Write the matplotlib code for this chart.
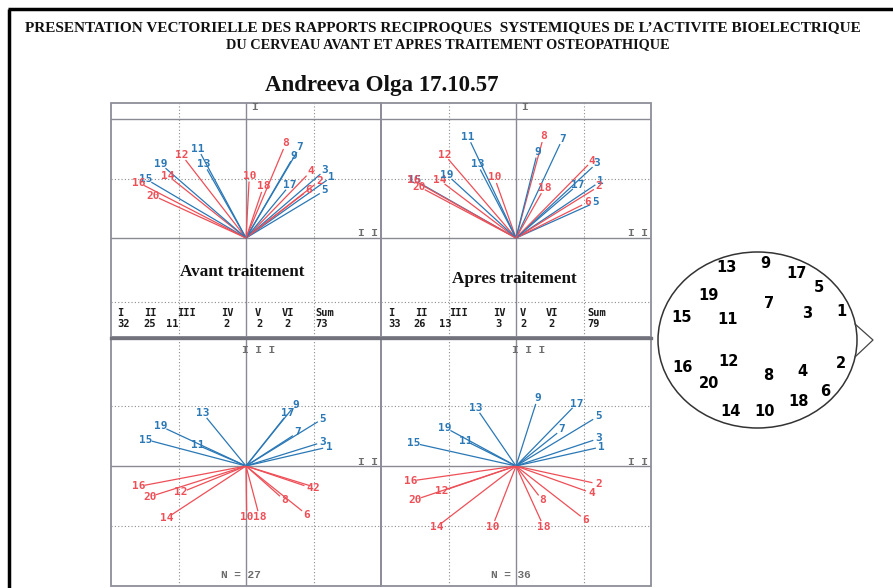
import matplotlib
matplotlib.use("Agg")
import matplotlib.pyplot as plt
from matplotlib.patches import Ellipse, Rectangle
from matplotlib import font_manager as fm
import numpy as np

# ---------------- data ----------------
electrodes = list(range(1, 21))

# vector tips (electrode 1..20), in panel grid units
avant_top_x = [1.27, 1.09, 1.17, 0.96, 1.17, 0.93, 0.80, 0.59, 0.71, 0.05,
               -0.71, -0.95, -0.62, -1.16, -1.48, -1.59, 0.65, 0.26, -1.26, -1.37]
avant_top_y = [1.03, 0.96, 1.14, 1.12, 0.80, 0.81, 1.53, 1.59, 1.38, 1.05,
               1.50, 1.39, 1.24, 1.05, 0.99, 0.93, 0.89, 0.87, 1.24, 0.71]

apres_top_x = [1.25, 1.23, 1.20, 1.13, 1.18, 1.06, 0.69, 0.41, 0.32, -0.32,
               -0.71, -1.06, -0.57, -1.13, -1.50, -1.52, 0.91, 0.42, -1.02, -1.43]
apres_top_y = [0.95, 0.87, 1.26, 1.30, 0.60, 0.60, 1.67, 1.71, 1.45, 1.02,
               1.70, 1.40, 1.24, 0.97, 0.97, 0.97, 0.89, 0.84, 1.06, 0.86]

avant_bot_x = [1.23, 1.04, 1.14, 0.95, 1.14, 0.90, 0.77, 0.57, 0.73, 0.01,
               -0.72, -0.96, -0.64, -1.18, -1.48, -1.59, 0.62, 0.20, -1.26, -1.42]
avant_bot_y = [0.32, -0.36, 0.40, -0.36, 0.79, -0.81, 0.56, -0.57, 1.02, -0.85,
               0.35, -0.44, 0.88, -0.87, 0.44, -0.34, 0.88, -0.85, 0.66, -0.51]

apres_bot_x = [1.27, 1.22, 1.23, 1.12, 1.22, 1.03, 0.68, 0.39, 0.32, -0.35,
               -0.75, -1.10, -0.59, -1.17, -1.51, -1.56, 0.90, 0.41, -1.05, -1.49]
apres_bot_y = [0.32, -0.30, 0.46, -0.45, 0.83, -0.90, 0.61, -0.57, 1.13, -1.01,
               0.42, -0.42, 0.97, -1.01, 0.38, -0.25, 1.04, -1.01, 0.64, -0.56]

stat_names = ["I", "II", "III", "IV", "V", "VI", "Sum"]
avant_stats = [32, 25, 11, 2, 2, 2, 73]
apres_stats = [33, 26, 13, 3, 2, 2, 79]
avant_N = 27
apres_N = 36

# electrode map (head scheme), pixel positions
head_x = [841, 841, 807, 802, 819, 825, 769, 768, 765, 765,
          728, 729, 727, 730, 682, 683, 796, 799, 708, 709]
head_y = [312, 363, 314, 372, 288, 392, 304, 376, 263, 411,
          319, 362, 268, 412, 317, 368, 273, 402, 296, 383]

title1 = "PRESENTATION VECTORIELLE DES RAPPORTS RECIPROQUES  SYSTEMIQUES DE L\u2019ACTIVITE BIOELECTRIQUE"
title2 = "DU CERVEAU AVANT ET APRES TRAITEMENT OSTEOPATHIQUE"
patient = "Andreeva Olga 17.10.57"

# ---------------- style ----------------
BLUE = "#2a78b6"
RED = "#ee4f57"
GSOLID = "#8a8a94"
GDOT = "#8c8c8c"
BORDER = "#8e8e9a"
LBL = "#6c6c6c"

names = {f.name for f in fm.fontManager.ttflist}


def pick(*cands):
    for c in cands:
        if c in names:
            return c
    return "DejaVu Sans"


NARROW = pick("Liberation Sans Narrow", "DejaVu Sans Condensed", "DejaVu Sans")
SERIF = pick("Liberation Serif", "DejaVu Serif")
TSERIF = pick("DejaVu Serif Condensed", "Liberation Serif", "DejaVu Serif")
MONO = pick("Liberation Mono", "DejaVu Sans Mono")

W, H = 893, 588
fig = plt.figure(figsize=(W / 100, H / 100), dpi=100)
fig.patch.set_facecolor("white")
renderer = fig.canvas.get_renderer()


def px_axes(x0, y0, x1, y1, z=1):
    ax = fig.add_axes([x0 / W, 1 - y1 / H, (x1 - x0) / W, (y1 - y0) / H])
    ax.set_zorder(z)
    ax.patch.set_alpha(0)
    return ax


def fit_text(ax, x, y, s, width_px, **kw):
    t = ax.text(x, y, s, **kw)
    w = t.get_window_extent(renderer).width
    t.set_fontsize(t.get_fontsize() * width_px / w)
    return t


bg = px_axes(0, 0, W, H, z=0)
bg.set_xlim(0, W)
bg.set_ylim(H, 0)
bg.axis("off")

# page border
bg.plot([9, 9], [9, H], color="black", lw=2.5, solid_capstyle="butt")
bg.plot([8, W], [9, 9], color="black", lw=2.5, solid_capstyle="butt")

# titles
fit_text(bg, 443, 28, title1, 837, ha="center", va="center", family=TSERIF,
         fontweight="bold", fontsize=10, color="#111111")
fit_text(bg, 448, 45, title2, 440, ha="center", va="center", family=TSERIF,
         fontweight="bold", fontsize=10, color="#111111")
fit_text(bg, 382, 85, patient, 235, ha="center", va="center", family=TSERIF,
         fontweight="bold", fontsize=14, color="#111111")

XU = 67.5


def panel(rect, ylim, solid_h, dotted_h):
    ax = px_axes(*rect)
    ax.set_xlim(-2, 2)
    ax.set_ylim(*ylim)
    ax.axis("off")
    for y in solid_h:
        ax.axhline(y, color=GSOLID, lw=1.0, zorder=1)
    for y in dotted_h:
        ax.axhline(y, color=GDOT, lw=0.8, ls=(0, (1, 2)), zorder=1)
    ax.axvline(0, color=GSOLID, lw=1.0, zorder=1)
    for x in (-1, 1):
        ax.axvline(x, color=GDOT, lw=0.8, ls=(0, (1, 2)), zorder=1)
    ax.add_patch(Rectangle((0, 0), 1, 1, transform=ax.transAxes, fill=False,
                           ec=BORDER, lw=1.3, clip_on=False, zorder=2))
    return ax


def vectors(ax, xs, ys, yu):
    for e, x, y in zip(electrodes, xs, ys):
        c = BLUE if e % 2 else RED
        L = np.hypot(x * XU, y * yu)
        f = max(0.0, (L - 6.0) / L)
        ax.plot([0, x * f], [0, y * f], color=c, lw=0.9, zorder=3,
                solid_capstyle="butt")
    for e, x, y in zip(electrodes, xs, ys):
        c = BLUE if e % 2 else RED
        ax.text(x, y, str(e), color=c, ha="center", va="center", fontsize=8,
                family="DejaVu Sans Mono", fontweight="bold", zorder=4)


YU_T = 59.5
YU_B = 60.0
top_ylim = ((238 - 337) / YU_T, (238 - 103) / YU_T)
bot_ylim = ((466 - 586) / YU_B, (466 - 337) / YU_B)

tl = panel((111, 103, 381, 337), top_ylim, [0, 2], [1, -1.07])
tr = panel((381, 103, 651, 337), top_ylim, [0, 2], [1, -1.07])
bl = panel((111, 337, 381, 586), bot_ylim, [0], [1, -1])
br = panel((381, 337, 651, 586), bot_ylim, [0], [1, -1])

vectors(tl, avant_top_x, avant_top_y, YU_T)
vectors(tr, apres_top_x, apres_top_y, YU_T)
vectors(bl, avant_bot_x, avant_bot_y, YU_B)
vectors(br, apres_bot_x, apres_bot_y, YU_B)

lab = dict(color=LBL, family=MONO, fontweight="bold", fontsize=8,
           ha="center", va="center", zorder=4)
for ax in (tl, tr):
    ax.text(0.13, 2.2, "I", **lab)
    ax.text(1.81, 0.08, "I I", **lab)
for ax, n in ((bl, avant_N), (br, apres_N)):
    ax.text(0.18, 1.93, "I I I", **lab)
    ax.text(1.81, 0.07, "I I", **lab)
    ax.text(-0.08, -1.82, f"N = {n}", **lab)

# overlay axes (pixel coordinates) for separator, captions, stats, head
sep = px_axes(0, 0, W, H, z=5)
sep.set_xlim(0, W)
sep.set_ylim(H, 0)
sep.axis("off")
sep.plot([111, 651], [337.5, 337.5], color="#72727c", lw=2.4)

# middle captions
fit_text(sep, 242, 272, "Avant traitement", 125, ha="center", va="center",
         family=SERIF, fontweight="bold", fontsize=11, color="#111111")
fit_text(sep, 514, 279, "Apres traitement", 125, ha="center", va="center",
         family=SERIF, fontweight="bold", fontsize=11, color="#111111")

# stats rows
st = dict(family="DejaVu Sans Mono", fontweight="bold", fontsize=7.5,
          color="#1a1a1a", ha="left", va="center")
left_lab_x = [117, 144, 177, 221, 255, 282, 315]
left_val_x = [117, 143, 166, 223, 256, 284, 315]
right_lab_x = [388, 415, 449, 493, 520, 546, 587]
right_val_x = [388, 413, 439, 495, 520, 548, 587]
for nm, v, lx, vx in zip(stat_names, avant_stats, left_lab_x, left_val_x):
    sep.text(lx, 313, nm, **st)
    sep.text(vx, 324, str(v), **st)
for nm, v, lx, vx in zip(stat_names, apres_stats, right_lab_x, right_val_x):
    sep.text(lx, 313, nm, **st)
    sep.text(vx, 324, str(v), **st)

# head scheme
sep.add_patch(Ellipse((757.5, 340), 199, 176, fill=False, ec="#333333", lw=1.1))
sep.plot([855, 873, 855], [324, 340, 357], color="#444444", lw=0.9)
for e, x, y in zip(electrodes, head_x, head_y):
    sep.text(x, y, str(e), ha="center", va="center", family=NARROW,
             fontweight="bold", fontsize=10.5, color="black")

fig.savefig("out.png", dpi=100, facecolor="white")
